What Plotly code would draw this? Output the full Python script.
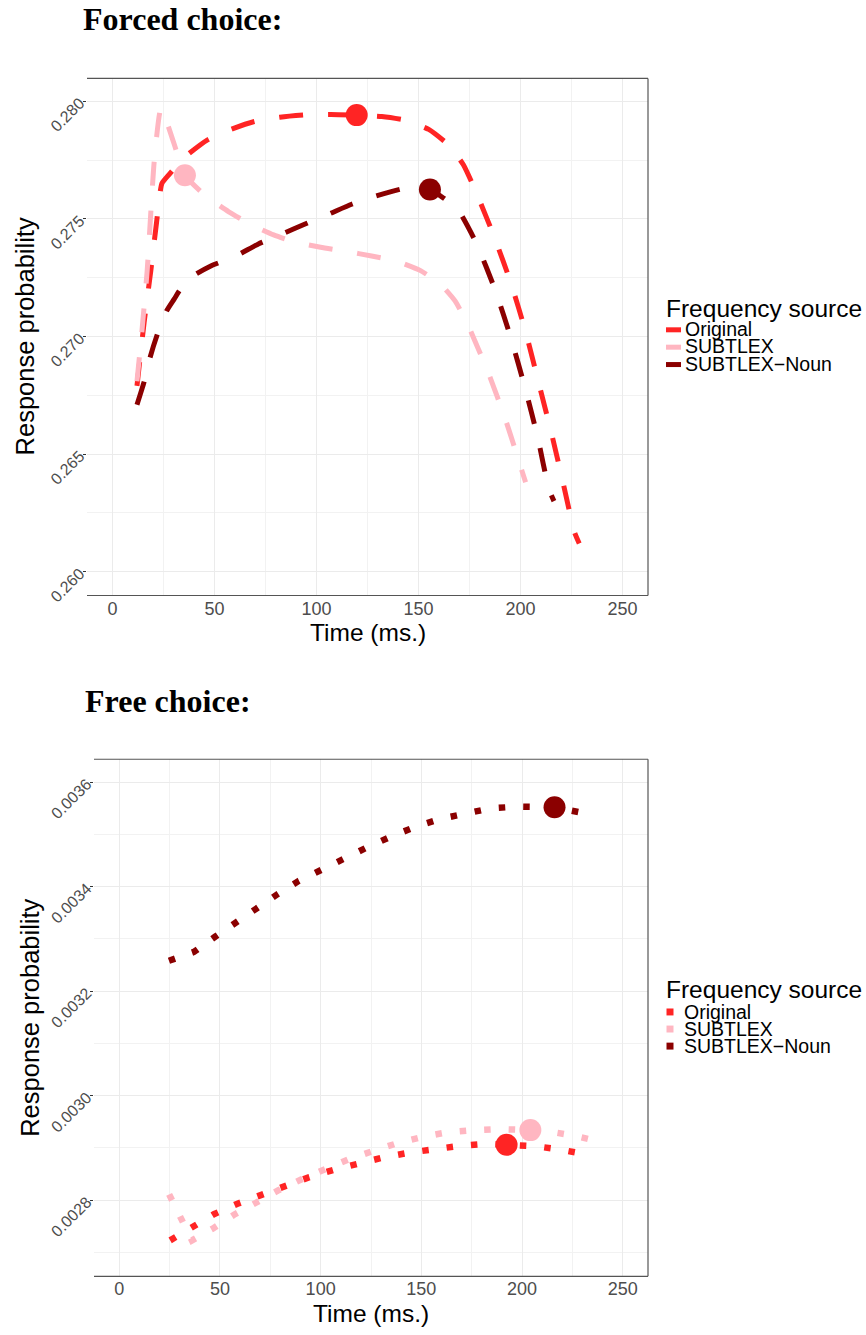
import plotly.graph_objects as go

W, H = 866, 1335

sources = ["Original", "SUBTLEX", "SUBTLEX\u2212Noun"]
colors = ["#FF2424", "#FFB6C1", "#8B0000"]

# ---------------- Forced choice data ----------------
forced_original_t = [12, 15.5, 18.8, 21.6, 24.2, 27.6, 35, 46.6, 58, 69.5, 82, 94.7, 107, 119.7,
                     132, 144.3, 155, 165, 172, 177.7, 187.1, 195.5, 202.7, 208.8, 215.1, 220.8,
                     226.4, 228.8]
forced_original_p = [0.2679, 0.27059, 0.27281, 0.27485, 0.2765, 0.27687, 0.2776, 0.27836, 0.2788,
                     0.27914, 0.27932, 0.27942, 0.27944, 0.27941, 0.27935, 0.27918, 0.2788,
                     0.27812, 0.2773, 0.27624, 0.27424, 0.27222, 0.27014, 0.26806, 0.26592,
                     0.26381, 0.26169, 0.2612]

forced_subtlex_t = [12, 14.5, 17, 20.5, 23.8, 31.5, 35.5, 45.8, 57, 68.3, 79, 89.5, 102, 114.4,
                    127, 139.3, 151, 161, 168, 174.4, 184.3, 192.9, 202.5]
forced_subtlex_p = [0.2681, 0.2703, 0.2728, 0.2775, 0.2797, 0.27784, 0.27685, 0.27597, 0.2753,
                    0.27474, 0.27432, 0.27401, 0.27379, 0.27362, 0.27342, 0.2732, 0.2728,
                    0.2722, 0.2715, 0.27045, 0.26844, 0.2664, 0.2638]

forced_noun_t = [12, 15.6, 18.4, 22, 26.6, 30.3, 34, 40, 48.2, 60, 71.5, 83, 94.4, 106, 117.2,
                 129, 141, 150, 155.6, 162, 169.5, 178.5, 187.9, 195.5, 202.4, 208.6, 213.8,
                 216.4]
forced_noun_p = [0.2671, 0.2681, 0.2691, 0.2701, 0.2711, 0.2716, 0.2721, 0.2726, 0.2730,
                 0.2734, 0.27393, 0.27435, 0.27478, 0.2752, 0.27562, 0.27597, 0.27626, 0.2764,
                 0.27625, 0.2759, 0.27537, 0.27394, 0.2719, 0.26987, 0.26776, 0.26565,
                 0.26354, 0.2630]

forced_peak_t = [119.7, 35.5, 155.6]
forced_peak_p = [0.27941, 0.27685, 0.27625]

# ---------------- Free choice data ----------------
free_original_t = [25.3, 36.1, 47, 58.7, 70.6, 82.2, 94.4, 106.6, 119.2, 131.5, 144.1, 156.6,
                   169.3, 182, 192.3, 207.2, 220, 232.4, 234]
free_original_p = [0.002723, 0.002749, 0.002773, 0.002793, 0.002811, 0.002828, 0.002844,
                   0.002858, 0.002871, 0.002882, 0.002891, 0.002899, 0.002904, 0.002908,
                   0.002906, 0.002903, 0.002896, 0.002887, 0.002886]

free_subtlex_t = [24.8, 30.5, 36.1, 46.2, 57, 67.9, 79.1, 90.6, 102.3, 113.9, 126, 138.1,
                  150.5, 163.2, 175.9, 188.4, 204.1, 214, 226.4, 238.6]
free_subtlex_p = [0.002811, 0.002768, 0.002723, 0.002745, 0.002772, 0.002795, 0.002819,
                  0.002840, 0.002860, 0.002878, 0.002894, 0.002909, 0.002921, 0.002930,
                  0.002934, 0.002936, 0.002934, 0.002931, 0.002923, 0.002912]

free_noun_t = [24.7, 37.1, 47.6, 58, 68.2, 78.8, 89.2, 101.4, 112.5, 124.1, 135.6, 147.5,
               159.9, 172.3, 184.6, 197.6, 216.1, 235.2]
free_noun_p = [0.003258, 0.003275, 0.003304, 0.003332, 0.003359, 0.003386, 0.003411,
               0.003434, 0.003457, 0.003477, 0.003497, 0.003515, 0.003530, 0.003541,
               0.003550, 0.003553, 0.003552, 0.003537]

free_peak_t = [192.3, 204.1, 216.1]
free_peak_p = [0.002906, 0.002934, 0.003552]

x_ticks = [0, 50, 100, 150, 200, 250]
forced_y_ticks = [0.260, 0.265, 0.270, 0.275, 0.280]
free_y_ticks = [0.0028, 0.0030, 0.0032, 0.0034, 0.0036]

# ---------------- helpers ----------------
def pxx(x):
    return x / W


def pyy(y):
    return 1 - y / H


SANS = "Liberation Sans, Arial, sans-serif"
SERIF = "Liberation Serif, Times New Roman, serif"

fig = go.Figure()

forced_series = [(forced_original_t, forced_original_p),
                 (forced_subtlex_t, forced_subtlex_p),
                 (forced_noun_t, forced_noun_p)]
for (t, p), c, name in zip(forced_series, colors, sources):
    fig.add_trace(go.Scatter(x=t, y=p, mode="lines", name=name, showlegend=False,
                             line=dict(color=c, width=5, dash="24px,25px",
                                       shape="spline", smoothing=0.5),
                             xaxis="x", yaxis="y", hoverinfo="skip"))
fig.add_trace(go.Scatter(x=forced_peak_t, y=forced_peak_p, mode="markers", showlegend=False,
                         marker=dict(color=colors, size=22, line=dict(width=0)),
                         xaxis="x", yaxis="y", hoverinfo="skip"))

free_series = [(free_original_t, free_original_p),
               (free_subtlex_t, free_subtlex_p),
               (free_noun_t, free_noun_p)]
for (t, p), c, name in zip(free_series, colors, sources):
    fig.add_trace(go.Scatter(x=t, y=p, mode="lines", name=name, showlegend=False,
                             line=dict(color=c, width=6.5, dash="6.5px,18px"),
                             xaxis="x2", yaxis="y2", hoverinfo="skip"))
fig.add_trace(go.Scatter(x=free_peak_t, y=free_peak_p, mode="markers", showlegend=False,
                         marker=dict(color=colors, size=22, line=dict(width=0)),
                         xaxis="x2", yaxis="y2", hoverinfo="skip"))

GRID = "#EBEBEB"
MINOR = "#F2F2F2"

common_x = dict(range=[-12.5, 262.5], tickmode="array", tickvals=x_ticks,
                ticks="",
                tickfont=dict(family=SANS, size=18, color="#4D4D4D"),
                showgrid=True, gridcolor=GRID, gridwidth=1.2, zeroline=False,
                showline=False,
                minor=dict(tickmode="linear", tick0=25, dtick=50, showgrid=True,
                           gridcolor=MINOR, gridwidth=1, ticks=""))

fig.update_layout(
    width=W, height=H, autosize=False,
    margin=dict(l=0, r=0, t=0, b=0),
    paper_bgcolor="white", plot_bgcolor="white",
    showlegend=False,
    xaxis=dict(domain=[pxx(87), pxx(648)], anchor="y", **common_x),
    yaxis=dict(domain=[pyy(600), pyy(79)], anchor="x",
               range=[0.258987, 0.280970], tickmode="array", tickvals=forced_y_ticks,
               ticktext=["%.3f" % v for v in forced_y_ticks], tickangle=-45,
               ticks="outside", ticklen=3, tickcolor="#333333",
               tickfont=dict(family=SANS, size=16, color="#4D4D4D"),
               showgrid=True, gridcolor=GRID, gridwidth=1.2, zeroline=False, showline=False,
               minor=dict(tickmode="linear", tick0=0.2575, dtick=0.005, showgrid=True,
                          gridcolor=MINOR, gridwidth=1, ticks="")),
    xaxis2=dict(domain=[pxx(94), pxx(648)], anchor="y2", **common_x),
    yaxis2=dict(domain=[pyy(1286), pyy(765)], anchor="x2",
                range=[0.0026541, 0.0036437], tickmode="array", tickvals=free_y_ticks,
                ticktext=["%.4f" % v for v in free_y_ticks], tickangle=-45,
                ticks="outside", ticklen=3, tickcolor="#333333",
                tickfont=dict(family=SANS, size=16, color="#4D4D4D"),
                showgrid=True, gridcolor=GRID, gridwidth=1.2, zeroline=False, showline=False,
                minor=dict(tickmode="linear", tick0=0.0027, dtick=0.0002, showgrid=True,
                           gridcolor=MINOR, gridwidth=1, ticks="")),
)

shapes = []
BORDER = "#555555"
for xa, ya in [("x", "y"), ("x2", "y2")]:
    xr, yr = xa + " domain", ya + " domain"
    shapes.append(dict(type="line", xref=xr, yref=yr, x0=0, x1=1, y0=1, y1=1,
                       line=dict(color=BORDER, width=1.2)))
    shapes.append(dict(type="line", xref=xr, yref=yr, x0=1, x1=1, y0=0, y1=1,
                       line=dict(color=BORDER, width=1.2)))
    shapes.append(dict(type="line", xref=xr, yref=yr, x0=0, x1=1, y0=0, y1=0,
                       line=dict(color=BORDER, width=1.2)))

annotations = []


def text(x, y, s, size, family=SANS, color="black", xanchor="left", angle=0, bold=False):
    if bold:
        s = "<b>" + s + "</b>"
    annotations.append(dict(xref="paper", yref="paper", x=pxx(x), y=pyy(y), text=s,
                            showarrow=False, xanchor=xanchor, yanchor="middle",
                            textangle=angle, borderpad=0,
                            font=dict(family=family, size=size, color=color)))


# panel titles
text(82, 19.5, "Forced choice:", 32, family=SERIF, bold=True)
text(84, 705.8, "Free choice:", 32, family=SERIF, bold=True)

# axis titles
text(367.5, 637.5, "Time (ms.)", 24.5, xanchor="center")
text(371, 1323.5, "Time (ms.)", 24.5, xanchor="center")
text(24.5, 339.5, "Response probability", 25.5, xanchor="center", angle=-90)
text(30, 1025.5, "Response probability", 25.5, xanchor="center", angle=-90)

# legends (manual)
legend_top_y = [332.3, 349.8, 367.3]
legend_bot_y = [1019.6, 1036.8, 1054.0]
text(665, 310.7, "Frequency source", 24.5)
text(665, 996.7, "Frequency source", 24.5)
for name, c, yt, yb in zip(sources, colors, legend_top_y, legend_bot_y):
    text(684, yt - 0.8, name, 19.5)
    shapes.append(dict(type="line", xref="paper", yref="paper",
                       x0=pxx(666), x1=pxx(681), y0=pyy(yt), y1=pyy(yt),
                       line=dict(color=c, width=5)))
    text(683, yb - 0.3, name, 19.5)
    shapes.append(dict(type="rect", xref="paper", yref="paper",
                       x0=pxx(666.5), x1=pxx(673.5), y0=pyy(yb + 3.5), y1=pyy(yb - 3.5),
                       line=dict(width=0), fillcolor=c))

fig.update_layout(shapes=shapes, annotations=annotations)

fig.write_html("out.html")
